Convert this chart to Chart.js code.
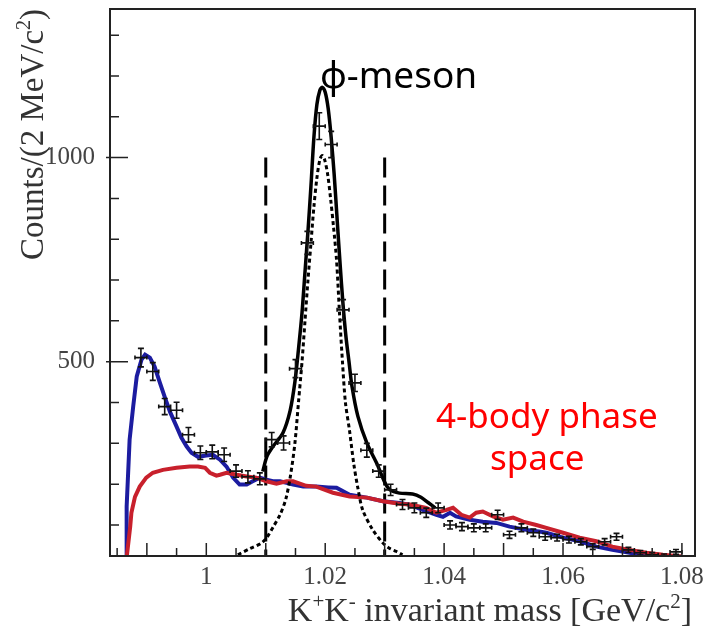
<!DOCTYPE html>
<html>
<head>
<meta charset="utf-8">
<title>K+K- invariant mass</title>
<script src="https://cdn.jsdelivr.net/npm/chart.js@4.4.0/dist/chart.umd.min.js"></script>
<style>
    html, body { margin: 0; padding: 0; background: #fff; }
    #wrap { width: 708px; height: 636px; position: relative; }
</style>
</head>
<body>
<div id="wrap"><canvas id="massChart" width="708" height="636"></canvas></div>
<script>
// Measured spectrum, 2 MeV bins
const binMass = [0.989, 0.991, 0.993, 0.995, 0.997, 0.999, 1.001, 1.003, 1.005, 1.007,
                 1.009, 1.011, 1.013, 1.015, 1.017, 1.019, 1.021, 1.023, 1.025, 1.027,
                 1.029, 1.031, 1.033, 1.035, 1.037, 1.039, 1.041, 1.043, 1.045, 1.047,
                 1.049, 1.051, 1.053, 1.055, 1.057, 1.059, 1.061, 1.063, 1.065, 1.067,
                 1.069, 1.071, 1.073, 1.075, 1.077, 1.079];
const binCounts = [510, 476, 390, 381, 321, 277, 279, 272, 232, 218,
                   213, 309, 301, 483, 791, 1077, 1032, 627, 448, 283,
                   232, 186, 150, 142, 130, 142, 100, 96, 93, 93,
                   125, 76, 93, 81, 71, 69, 64, 59, 47, 59,
                   71, 39, 32, 27, 24, 34];

// Background fit (blue)
const bgMass = [0.9865, 0.9866, 0.9871, 0.9877, 0.9883, 0.9891, 0.9897, 0.9905, 0.9913, 0.9922,
                0.9930, 0.9939, 0.9950, 0.9958, 0.9967, 0.9975, 0.9986, 1.0000, 1.0011, 1.0023,
                1.0034, 1.0045, 1.0056, 1.0068, 1.0078, 1.0090, 1.0101, 1.0112, 1.0124, 1.0135,
                1.0146, 1.0163, 1.0185, 1.0205, 1.0219, 1.0241, 1.0270, 1.0297, 1.0325, 1.0342,
                1.0364, 1.0387, 1.0398, 1.0410, 1.0420, 1.0443, 1.0465, 1.0488, 1.0510, 1.0538,
                1.0560, 1.0572, 1.0600, 1.0628, 1.0656, 1.0683, 1.0712, 1.0740, 1.0768, 1.0800];
const bgCounts = [22, 145, 309, 390, 464, 505, 517, 510, 488, 448,
                  414, 377, 341, 314, 292, 277, 267, 270, 272, 260,
                  243, 216, 199, 199, 207, 216, 211, 207, 207, 203,
                  199, 194, 194, 192, 191, 174, 167, 158, 154, 150,
                  137, 125, 120, 130, 121, 113, 108, 105, 96, 88,
                  84, 81, 69, 60, 47, 39, 32, 25, 23, 22];

// 4-body phase space (red)
const psMass = [0.9866, 0.9872, 0.9874, 0.9880, 0.9888, 0.9899, 0.9910, 0.9927, 0.9950, 0.9972,
                0.9986, 0.9998, 1.0006, 1.0017, 1.0023, 1.0034, 1.0051, 1.0068, 1.0084, 1.0101,
                1.0118, 1.0135, 1.0146, 1.0168, 1.0185, 1.0213, 1.0241, 1.0270, 1.0297, 1.0325,
                1.0342, 1.0370, 1.0387, 1.0404, 1.0415, 1.0429, 1.0443, 1.0454, 1.0465, 1.0482,
                1.0499, 1.0516, 1.0533, 1.0555, 1.0572, 1.0600, 1.0628, 1.0656, 1.0683, 1.0712,
                1.0740, 1.0768, 1.0800];
const psCounts = [20, 96, 130, 169, 194, 216, 228, 235, 240, 243,
                  243, 240, 228, 221, 223, 228, 223, 219, 216, 207,
                  201, 207, 207, 196, 194, 179, 170, 167, 158, 152,
                  150, 142, 130, 137, 142, 125, 118, 130, 133, 121,
                  113, 118, 108, 100, 93, 81, 69, 60, 47, 39,
                  32, 27, 23];

// Total fit, phi + background (black solid)
const totalMass = [1.0095, 1.0102, 1.0112, 1.0129, 1.0141, 1.0149, 1.0155, 1.0161, 1.0166, 1.0171,
                   1.0176, 1.0181, 1.0186, 1.0191, 1.0195, 1.0200, 1.0205, 1.0210, 1.0215, 1.0220,
                   1.0225, 1.0230, 1.0235, 1.0240, 1.0245, 1.0255, 1.0270, 1.0287, 1.0300, 1.0309,
                   1.0325, 1.0347, 1.0361, 1.0373, 1.0385];
const totalCounts = [231, 268, 292, 326, 380, 450, 530, 620, 720, 820,
                     930, 1050, 1130, 1165, 1172, 1160, 1120, 1050, 960, 850,
                     740, 640, 560, 500, 440, 366, 301, 250, 205, 186,
                     178, 176, 168, 155, 142];

// Phi signal alone (black dotted)
const phiMass = [1.0053, 1.0073, 1.0093, 1.0102, 1.0112, 1.0124, 1.0134, 1.0142, 1.0149, 1.0155,
                 1.0161, 1.0166, 1.0171, 1.0176, 1.0181, 1.0186, 1.0191, 1.0195, 1.0199, 1.0204,
                 1.0209, 1.0214, 1.0219, 1.0224, 1.0229, 1.0234, 1.0241, 1.0248, 1.0255, 1.0263,
                 1.0280, 1.0297, 1.0308, 1.0320, 1.0330];
const phiCounts = [27, 42, 56, 70, 94, 125, 165, 225, 300, 400,
                   500, 600, 700, 790, 880, 950, 995, 1005, 995, 960,
                   900, 830, 750, 620, 500, 400, 330, 250, 190, 137,
                   88, 56, 43, 35, 27];

// Axis ticks and labels
const xTickValues = [1, 1.02, 1.04, 1.06, 1.08];
const xTickLabels = ['1', '1.02', '1.04', '1.06', '1.08'];
const yTickValues = [500, 1000];
const yTickLabels = ['500', '1000'];

// Mass window around the phi peak
const windowEdges = [1.01, 1.03];
const windowTop = [1000, 1000];

const SERIF = '"Liberation Serif", "Times New Roman", serif';
const SANS = '"Noto Sans", "DejaVu Sans", sans-serif';

document.addEventListener('DOMContentLoaded', function() {
    drawMassChart();
});

/**
 * Zip two arrays into {x, y} points
 */
function toPoints(xs, ys) {
    return xs.map((x, i) => ({ x: x, y: ys[i] }));
}

/**
 * Draws a string made of normal and superscript pieces, returns the width
 */
function drawRich(ctx, parts, x, y, size, measureOnly) {
    let cx = x;
    parts.forEach(p => {
        const fs = p.sup ? Math.round(size * 0.62) : size;
        ctx.font = fs + 'px ' + SERIF;
        const dy = p.sup ? -size * 0.38 : 0;
        if (!measureOnly) ctx.fillText(p.t, cx, y + dy);
        cx += ctx.measureText(p.t).width;
    });
    return cx - x;
}

/**
 * Frame, inward ticks, mass window, error bars and labels
 */
const decorPlugin = {
    id: 'decor',
    beforeDatasetsDraw(chart) {
        const ctx = chart.ctx;
        const xs = chart.scales.x, ys = chart.scales.y;
        // Dashed lines marking the mass window
        ctx.save();
        ctx.strokeStyle = '#000';
        ctx.lineWidth = 3;
        ctx.setLineDash([20, 8]);
        windowEdges.forEach((m, i) => {
            const px = xs.getPixelForValue(m);
            ctx.beginPath();
            ctx.moveTo(px, ys.getPixelForValue(windowTop[i]));
            ctx.lineTo(px, chart.chartArea.bottom);
            ctx.stroke();
        });
        ctx.restore();
    },
    afterDatasetsDraw(chart) {
        const ctx = chart.ctx;
        const xs = chart.scales.x, ys = chart.scales.y;
        const area = chart.chartArea;
        // Error bars on the measured points
        const meta = chart.getDatasetMeta(0);
        ctx.save();
        ctx.beginPath();
        ctx.rect(area.left, area.top, area.right - area.left, area.bottom - area.top);
        ctx.clip();
        ctx.strokeStyle = '#111';
        ctx.lineWidth = 1.6;
        meta.data.forEach((pt, i) => {
            const n = binCounts[i];
            const err = Math.sqrt(n);
            const x0 = xs.getPixelForValue(binMass[i] - 0.001);
            const x1 = xs.getPixelForValue(binMass[i] + 0.001);
            const y0 = ys.getPixelForValue(n + err);
            const y1 = ys.getPixelForValue(n - err);
            ctx.beginPath();
            ctx.moveTo(x0, pt.y); ctx.lineTo(x1, pt.y);
            ctx.moveTo(pt.x, y0); ctx.lineTo(pt.x, y1);
            // small caps
            ctx.moveTo(pt.x - 3, y0); ctx.lineTo(pt.x + 3, y0);
            ctx.moveTo(pt.x - 3, y1); ctx.lineTo(pt.x + 3, y1);
            ctx.moveTo(x0, pt.y - 2); ctx.lineTo(x0, pt.y + 2);
            ctx.moveTo(x1, pt.y - 2); ctx.lineTo(x1, pt.y + 2);
            ctx.stroke();
        });
        ctx.restore();
    },
    afterDraw(chart) {
        const ctx = chart.ctx;
        const xs = chart.scales.x, ys = chart.scales.y;
        const a = chart.chartArea;
        ctx.save();
        // Frame
        ctx.strokeStyle = '#222';
        ctx.lineWidth = 2;
        ctx.strokeRect(a.left, a.top, a.right - a.left, a.bottom - a.top);

        // X ticks every 5 MeV, longer every 10 MeV
        ctx.lineWidth = 1.5;
        ctx.beginPath();
        for (let k = 197; k <= 216; k++) {
            const m = k * 0.005;
            const px = xs.getPixelForValue(m);
            if (px < a.left || px > a.right) continue;
            const len = (k % 2 === 0) ? 13 : 8;
            ctx.moveTo(px, a.bottom);
            ctx.lineTo(px, a.bottom - len);
        }
        // Y ticks every 100, long ones at labelled values
        for (let v = 100; v <= 1300; v += 100) {
            const py = ys.getPixelForValue(v);
            if (yTickValues.includes(v)) {
                ctx.moveTo(a.left - 4, py);
                ctx.lineTo(a.left + 18, py);
            } else {
                ctx.moveTo(a.left, py);
                ctx.lineTo(a.left + 9, py);
            }
        }
        ctx.stroke();

        // Axis titles
        ctx.fillStyle = '#333';
        ctx.textBaseline = 'alphabetic';
        ctx.textAlign = 'left';
        const xTitle = [
            { t: 'K' }, { t: '+', sup: true }, { t: 'K' }, { t: '-', sup: true },
            { t: ' invariant mass [GeV/c' }, { t: '2', sup: true }, { t: ']' }
        ];
        const xSize = 34;
        const xw = drawRich(ctx, xTitle, 0, 0, xSize, true);
        drawRich(ctx, xTitle, 692 - xw, 621, xSize, false);

        const yTitle = [{ t: 'Counts/(2 MeV/c' }, { t: '2', sup: true }, { t: ')' }];
        ctx.save();
        ctx.translate(43, 260);
        ctx.rotate(-Math.PI / 2);
        drawRich(ctx, yTitle, 0, 0, 33, false);
        ctx.restore();

        // Annotations
        ctx.fillStyle = '#000';
        ctx.font = '37px ' + SANS;
        ctx.fillText('\u03D5-meson', 320, 88);
        ctx.fillStyle = '#f00';
        ctx.font = '35px ' + SANS;
        ctx.fillText('4-body phase', 436, 428);
        ctx.fillText('space', 490, 470);
        ctx.restore();
    }
};

/**
 * Builds the K+K- mass spectrum chart
 */
function drawMassChart() {
    const ctx = document.getElementById('massChart').getContext('2d');
    new Chart(ctx, {
        type: 'scatter',
        data: {
            datasets: [
                {
                    label: 'data',
                    data: toPoints(binMass, binCounts),
                    pointRadius: 0,
                    showLine: false,
                    order: 0
                },
                {
                    label: 'phi',
                    data: toPoints(phiMass, phiCounts),
                    showLine: true,
                    borderColor: '#000',
                    borderWidth: 3,
                    borderDash: [4, 3],
                    pointRadius: 0,
                    tension: 0.3,
                    order: 1
                },
                {
                    label: 'total',
                    data: toPoints(totalMass, totalCounts),
                    showLine: true,
                    borderColor: '#000',
                    borderWidth: 3.5,
                    pointRadius: 0,
                    tension: 0.3,
                    order: 2
                },
                {
                    label: '4-body phase space',
                    data: toPoints(psMass, psCounts),
                    showLine: true,
                    borderColor: '#c8202c',
                    borderWidth: 4,
                    pointRadius: 0,
                    tension: 0,
                    order: 3
                },
                {
                    label: 'background',
                    data: toPoints(bgMass, bgCounts),
                    showLine: true,
                    borderColor: '#1c1ca0',
                    borderWidth: 4,
                    pointRadius: 0,
                    tension: 0,
                    order: 4
                }
            ]
        },
        options: {
            responsive: false,
            devicePixelRatio: 1,
            animation: false,
            layout: { padding: { top: 9, right: 13, left: 0, bottom: 0 } },
            plugins: {
                legend: { display: false },
                tooltip: { enabled: false }
            },
            scales: {
                x: {
                    type: 'linear',
                    min: 0.9838,
                    max: 1.0822,
                    grid: { display: false },
                    border: { display: false },
                    afterFit: s => {
                        s.height = 80;
                        s.paddingLeft = 0;
                        s.paddingRight = 0;
                    },
                    afterBuildTicks: s => { s.ticks = xTickValues.map(v => ({ value: v })); },
                    ticks: {
                        autoSkip: false,
                        maxRotation: 0,
                        padding: -2,
                        color: '#444',
                        font: { family: SERIF, size: 25 },
                        callback: (v, i) => xTickLabels[i]
                    }
                },
                y: {
                    type: 'linear',
                    min: 24,
                    max: 1364,
                    grid: { display: false },
                    border: { display: false },
                    afterFit: s => {
                        s.width = 110;
                        s.paddingTop = 0;
                        s.paddingBottom = 0;
                    },
                    afterBuildTicks: s => { s.ticks = yTickValues.map(v => ({ value: v })); },
                    ticks: {
                        padding: 7,
                        color: '#444',
                        font: { family: SERIF, size: 25 },
                        callback: (v, i) => yTickLabels[i]
                    }
                }
            }
        },
        plugins: [decorPlugin]
    });
}
</script>
</body>
</html>
